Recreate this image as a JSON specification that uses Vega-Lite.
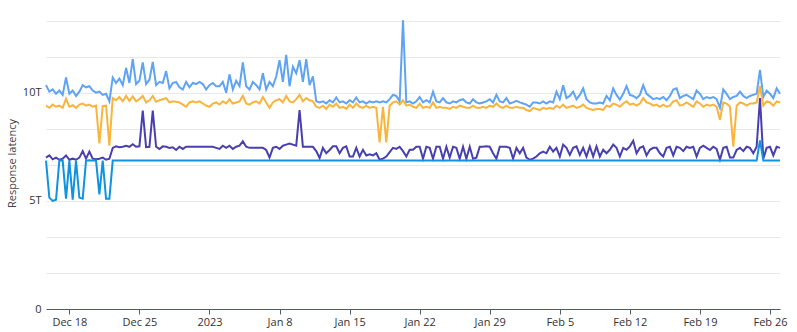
{
 "$schema": "https://vega.github.io/schema/vega-lite/v6.json",
 "width": 734,
 "height": 292,
 "autosize": {"type": "none"},
 "padding": {"left": 46, "top": 17, "right": 17, "bottom": 23},
 "background": "white",
 "config": {"view": {"stroke": null}, "font": "Open Sans"},
 "data": {"values": [
{"t":"2022-12-15T16:00","a":10.35,"b":9.40,"c":7.00,"d":6.86},
{"t":"2022-12-16T00:00","a":10.05,"b":9.30,"c":7.10,"d":5.15},
{"t":"2022-12-16T08:00","a":10.15,"b":9.45,"c":6.92,"d":5.00},
{"t":"2022-12-16T16:00","a":9.95,"b":9.35,"c":7.00,"d":5.05},
{"t":"2022-12-17T00:00","a":10.10,"b":9.40,"c":6.90,"d":6.86},
{"t":"2022-12-17T08:00","a":9.90,"b":9.30,"c":6.95,"d":6.86},
{"t":"2022-12-17T16:00","a":10.70,"b":9.72,"c":7.10,"d":5.10},
{"t":"2022-12-18T00:00","a":9.95,"b":9.35,"c":6.90,"d":6.86},
{"t":"2022-12-18T08:00","a":10.10,"b":9.42,"c":6.95,"d":5.05},
{"t":"2022-12-18T16:00","a":9.85,"b":9.30,"c":6.90,"d":6.86},
{"t":"2022-12-19T00:00","a":10.05,"b":9.45,"c":7.00,"d":5.15},
{"t":"2022-12-19T08:00","a":10.35,"b":9.50,"c":7.30,"d":5.10},
{"t":"2022-12-19T16:00","a":10.25,"b":9.40,"c":6.95,"d":6.86},
{"t":"2022-12-20T00:00","a":10.30,"b":9.45,"c":7.28,"d":6.88},
{"t":"2022-12-20T08:00","a":10.10,"b":9.35,"c":6.95,"d":6.86},
{"t":"2022-12-20T16:00","a":10.00,"b":9.40,"c":6.92,"d":6.86},
{"t":"2022-12-21T00:00","a":10.05,"b":7.65,"c":6.95,"d":5.30},
{"t":"2022-12-21T08:00","a":9.90,"b":9.38,"c":7.00,"d":6.86},
{"t":"2022-12-21T16:00","a":9.95,"b":9.40,"c":6.90,"d":5.10},
{"t":"2022-12-22T00:00","a":9.60,"b":7.55,"c":6.95,"d":5.10},
{"t":"2022-12-22T08:00","a":10.70,"b":9.75,"c":7.45,"d":6.86},
{"t":"2022-12-22T16:00","a":10.45,"b":9.65,"c":7.52,"d":6.86},
{"t":"2022-12-23T00:00","a":10.65,"b":9.80,"c":7.48,"d":6.86},
{"t":"2022-12-23T08:00","a":10.35,"b":9.60,"c":7.50,"d":6.86},
{"t":"2022-12-23T16:00","a":11.15,"b":9.85,"c":7.55,"d":6.86},
{"t":"2022-12-24T00:00","a":10.45,"b":9.62,"c":7.50,"d":6.86},
{"t":"2022-12-24T08:00","a":11.55,"b":9.83,"c":7.62,"d":6.86},
{"t":"2022-12-24T16:00","a":10.40,"b":9.60,"c":7.50,"d":6.86},
{"t":"2022-12-25T00:00","a":10.55,"b":9.70,"c":7.52,"d":6.86},
{"t":"2022-12-25T08:00","a":11.40,"b":9.85,"c":9.17,"d":6.86},
{"t":"2022-12-25T16:00","a":10.40,"b":9.55,"c":7.48,"d":6.86},
{"t":"2022-12-26T00:00","a":10.60,"b":9.65,"c":7.50,"d":6.86},
{"t":"2022-12-26T08:00","a":11.42,"b":9.85,"c":9.17,"d":6.86},
{"t":"2022-12-26T16:00","a":10.35,"b":9.58,"c":7.50,"d":6.86},
{"t":"2022-12-27T00:00","a":10.50,"b":9.65,"c":7.40,"d":6.86},
{"t":"2022-12-27T08:00","a":10.45,"b":9.70,"c":7.52,"d":6.86},
{"t":"2022-12-27T16:00","a":11.00,"b":9.75,"c":7.50,"d":6.86},
{"t":"2022-12-28T00:00","a":10.20,"b":9.55,"c":7.45,"d":6.86},
{"t":"2022-12-28T08:00","a":10.45,"b":9.60,"c":7.48,"d":6.86},
{"t":"2022-12-28T16:00","a":10.50,"b":9.58,"c":7.35,"d":6.86},
{"t":"2022-12-29T00:00","a":10.25,"b":9.55,"c":7.50,"d":6.86},
{"t":"2022-12-29T08:00","a":10.15,"b":9.45,"c":7.40,"d":6.86},
{"t":"2022-12-29T16:00","a":10.50,"b":9.35,"c":7.50,"d":6.86},
{"t":"2022-12-30T00:00","a":10.25,"b":9.55,"c":7.50,"d":6.86},
{"t":"2022-12-30T08:00","a":10.45,"b":9.60,"c":7.50,"d":6.86},
{"t":"2022-12-30T16:00","a":10.40,"b":9.55,"c":7.50,"d":6.86},
{"t":"2022-12-31T00:00","a":10.50,"b":9.60,"c":7.50,"d":6.86},
{"t":"2022-12-31T08:00","a":10.40,"b":9.50,"c":7.50,"d":6.86},
{"t":"2022-12-31T16:00","a":10.15,"b":9.40,"c":7.50,"d":6.86},
{"t":"2023-01-01T00:00","a":10.35,"b":9.35,"c":7.50,"d":6.86},
{"t":"2023-01-01T08:00","a":10.45,"b":9.50,"c":7.50,"d":6.86},
{"t":"2023-01-01T16:00","a":10.30,"b":9.55,"c":7.45,"d":6.86},
{"t":"2023-01-02T00:00","a":10.30,"b":9.45,"c":7.40,"d":6.86},
{"t":"2023-01-02T08:00","a":10.50,"b":9.60,"c":7.55,"d":6.86},
{"t":"2023-01-02T16:00","a":10.00,"b":9.50,"c":7.45,"d":6.86},
{"t":"2023-01-03T00:00","a":10.85,"b":9.70,"c":7.55,"d":6.86},
{"t":"2023-01-03T08:00","a":10.15,"b":9.50,"c":7.40,"d":6.86},
{"t":"2023-01-03T16:00","a":10.55,"b":9.55,"c":7.50,"d":6.86},
{"t":"2023-01-04T00:00","a":10.30,"b":9.60,"c":7.55,"d":6.86},
{"t":"2023-01-04T08:00","a":11.40,"b":9.85,"c":7.75,"d":6.86},
{"t":"2023-01-04T16:00","a":10.30,"b":9.50,"c":7.50,"d":6.86},
{"t":"2023-01-05T00:00","a":10.15,"b":9.45,"c":7.45,"d":6.86},
{"t":"2023-01-05T08:00","a":10.50,"b":9.55,"c":7.45,"d":6.86},
{"t":"2023-01-05T16:00","a":10.35,"b":9.60,"c":7.45,"d":6.86},
{"t":"2023-01-06T00:00","a":10.15,"b":9.50,"c":7.45,"d":6.86},
{"t":"2023-01-06T08:00","a":10.90,"b":9.80,"c":7.45,"d":6.86},
{"t":"2023-01-06T16:00","a":10.15,"b":9.55,"c":7.35,"d":6.86},
{"t":"2023-01-07T00:00","a":10.50,"b":9.30,"c":7.00,"d":6.86},
{"t":"2023-01-07T08:00","a":10.30,"b":9.55,"c":7.45,"d":6.86},
{"t":"2023-01-07T16:00","a":10.75,"b":9.65,"c":7.50,"d":6.86},
{"t":"2023-01-08T00:00","a":11.50,"b":9.70,"c":7.40,"d":6.86},
{"t":"2023-01-08T08:00","a":10.50,"b":9.55,"c":7.55,"d":6.86},
{"t":"2023-01-08T16:00","a":11.75,"b":9.85,"c":7.60,"d":6.86},
{"t":"2023-01-09T00:00","a":10.30,"b":9.60,"c":7.65,"d":6.86},
{"t":"2023-01-09T08:00","a":11.20,"b":9.55,"c":7.60,"d":6.86},
{"t":"2023-01-09T16:00","a":10.90,"b":9.70,"c":7.55,"d":6.86},
{"t":"2023-01-10T00:00","a":11.50,"b":9.90,"c":9.20,"d":6.86},
{"t":"2023-01-10T08:00","a":10.50,"b":9.60,"c":7.50,"d":6.86},
{"t":"2023-01-10T16:00","a":11.55,"b":9.75,"c":7.50,"d":6.86},
{"t":"2023-01-11T00:00","a":10.35,"b":9.65,"c":7.50,"d":6.86},
{"t":"2023-01-11T08:00","a":10.75,"b":9.60,"c":7.50,"d":6.86},
{"t":"2023-01-11T16:00","a":9.60,"b":9.35,"c":7.30,"d":6.86},
{"t":"2023-01-12T00:00","a":9.55,"b":9.30,"c":6.98,"d":6.86},
{"t":"2023-01-12T08:00","a":9.60,"b":9.40,"c":7.45,"d":6.86},
{"t":"2023-01-12T16:00","a":9.50,"b":9.25,"c":7.20,"d":6.86},
{"t":"2023-01-13T00:00","a":9.65,"b":9.45,"c":7.35,"d":6.86},
{"t":"2023-01-13T08:00","a":9.55,"b":9.35,"c":7.52,"d":6.86},
{"t":"2023-01-13T16:00","a":9.78,"b":9.50,"c":7.52,"d":6.86},
{"t":"2023-01-14T00:00","a":9.55,"b":9.30,"c":7.20,"d":6.86},
{"t":"2023-01-14T08:00","a":9.60,"b":9.35,"c":7.45,"d":6.86},
{"t":"2023-01-14T16:00","a":9.50,"b":9.25,"c":7.52,"d":6.86},
{"t":"2023-01-15T00:00","a":9.65,"b":9.45,"c":7.05,"d":6.86},
{"t":"2023-01-15T08:00","a":9.55,"b":9.30,"c":7.05,"d":6.86},
{"t":"2023-01-15T16:00","a":9.78,"b":9.50,"c":7.45,"d":6.86},
{"t":"2023-01-16T00:00","a":9.55,"b":9.35,"c":7.05,"d":6.86},
{"t":"2023-01-16T08:00","a":9.60,"b":9.30,"c":7.36,"d":6.86},
{"t":"2023-01-16T16:00","a":9.50,"b":9.40,"c":7.10,"d":6.86},
{"t":"2023-01-17T00:00","a":9.60,"b":9.30,"c":7.15,"d":6.86},
{"t":"2023-01-17T08:00","a":9.55,"b":9.35,"c":7.10,"d":6.86},
{"t":"2023-01-17T16:00","a":9.60,"b":9.30,"c":7.20,"d":6.86},
{"t":"2023-01-18T00:00","a":9.55,"b":7.70,"c":6.90,"d":6.86},
{"t":"2023-01-18T08:00","a":9.60,"b":9.35,"c":6.95,"d":6.86},
{"t":"2023-01-18T16:00","a":9.55,"b":7.70,"c":7.05,"d":6.86},
{"t":"2023-01-19T00:00","a":9.70,"b":9.40,"c":7.25,"d":6.86},
{"t":"2023-01-19T08:00","a":9.90,"b":9.55,"c":7.45,"d":6.86},
{"t":"2023-01-19T16:00","a":9.85,"b":9.60,"c":7.40,"d":6.86},
{"t":"2023-01-20T00:00","a":9.60,"b":9.45,"c":7.50,"d":6.86},
{"t":"2023-01-20T08:00","a":13.35,"b":9.65,"c":7.30,"d":6.86},
{"t":"2023-01-20T16:00","a":9.55,"b":9.40,"c":7.05,"d":6.86},
{"t":"2023-01-21T00:00","a":9.60,"b":9.45,"c":7.36,"d":6.86},
{"t":"2023-01-21T08:00","a":9.50,"b":9.35,"c":7.36,"d":6.86},
{"t":"2023-01-21T16:00","a":9.60,"b":9.30,"c":7.50,"d":6.86},
{"t":"2023-01-22T00:00","a":9.80,"b":9.50,"c":7.50,"d":6.86},
{"t":"2023-01-22T08:00","a":9.55,"b":9.30,"c":6.95,"d":6.86},
{"t":"2023-01-22T16:00","a":9.65,"b":9.35,"c":7.50,"d":6.86},
{"t":"2023-01-23T00:00","a":9.55,"b":9.30,"c":7.45,"d":6.86},
{"t":"2023-01-23T08:00","a":10.05,"b":9.55,"c":6.95,"d":6.86},
{"t":"2023-01-23T16:00","a":9.60,"b":9.30,"c":7.50,"d":6.86},
{"t":"2023-01-24T00:00","a":9.55,"b":9.35,"c":7.50,"d":6.86},
{"t":"2023-01-24T08:00","a":9.75,"b":9.30,"c":6.95,"d":6.86},
{"t":"2023-01-24T16:00","a":9.55,"b":9.30,"c":7.50,"d":6.86},
{"t":"2023-01-25T00:00","a":9.50,"b":9.25,"c":7.00,"d":6.86},
{"t":"2023-01-25T08:00","a":9.60,"b":9.35,"c":7.50,"d":6.86},
{"t":"2023-01-25T16:00","a":9.55,"b":9.30,"c":7.45,"d":6.86},
{"t":"2023-01-26T00:00","a":9.65,"b":9.40,"c":6.95,"d":6.86},
{"t":"2023-01-26T08:00","a":9.70,"b":9.35,"c":7.50,"d":6.86},
{"t":"2023-01-26T16:00","a":9.55,"b":9.30,"c":6.95,"d":6.86},
{"t":"2023-01-27T00:00","a":9.50,"b":9.30,"c":7.50,"d":6.86},
{"t":"2023-01-27T08:00","a":9.70,"b":9.40,"c":6.95,"d":6.86},
{"t":"2023-01-27T16:00","a":9.55,"b":9.30,"c":7.00,"d":6.86},
{"t":"2023-01-28T00:00","a":9.50,"b":9.30,"c":7.50,"d":6.86},
{"t":"2023-01-28T08:00","a":9.55,"b":9.35,"c":7.50,"d":6.86},
{"t":"2023-01-28T16:00","a":9.60,"b":9.30,"c":7.52,"d":6.86},
{"t":"2023-01-29T00:00","a":9.70,"b":9.40,"c":7.50,"d":6.86},
{"t":"2023-01-29T08:00","a":9.55,"b":9.35,"c":7.20,"d":6.86},
{"t":"2023-01-29T16:00","a":9.90,"b":9.50,"c":6.95,"d":6.86},
{"t":"2023-01-30T00:00","a":9.60,"b":9.35,"c":7.50,"d":6.86},
{"t":"2023-01-30T08:00","a":9.55,"b":9.30,"c":7.50,"d":6.86},
{"t":"2023-01-30T16:00","a":9.75,"b":9.40,"c":7.50,"d":6.86},
{"t":"2023-01-31T00:00","a":9.50,"b":9.30,"c":7.45,"d":6.86},
{"t":"2023-01-31T08:00","a":9.55,"b":9.30,"c":6.95,"d":6.86},
{"t":"2023-01-31T16:00","a":9.62,"b":9.35,"c":7.45,"d":6.86},
{"t":"2023-02-01T00:00","a":9.55,"b":9.30,"c":7.20,"d":6.86},
{"t":"2023-02-01T08:00","a":9.50,"b":9.30,"c":7.45,"d":6.86},
{"t":"2023-02-01T16:00","a":9.45,"b":9.20,"c":7.00,"d":6.86},
{"t":"2023-02-02T00:00","a":9.35,"b":9.15,"c":6.90,"d":6.86},
{"t":"2023-02-02T08:00","a":9.55,"b":9.30,"c":6.95,"d":6.86},
{"t":"2023-02-02T16:00","a":9.55,"b":9.25,"c":7.05,"d":6.86},
{"t":"2023-02-03T00:00","a":9.50,"b":9.20,"c":7.20,"d":6.86},
{"t":"2023-02-03T08:00","a":9.60,"b":9.30,"c":7.28,"d":6.86},
{"t":"2023-02-03T16:00","a":9.50,"b":9.25,"c":7.20,"d":6.86},
{"t":"2023-02-04T00:00","a":9.60,"b":9.30,"c":7.50,"d":6.86},
{"t":"2023-02-04T08:00","a":9.55,"b":9.25,"c":7.28,"d":6.86},
{"t":"2023-02-04T16:00","a":10.05,"b":9.40,"c":7.45,"d":6.86},
{"t":"2023-02-05T00:00","a":9.70,"b":9.30,"c":7.05,"d":6.86},
{"t":"2023-02-05T08:00","a":10.35,"b":9.45,"c":7.60,"d":6.86},
{"t":"2023-02-05T16:00","a":9.75,"b":9.30,"c":7.45,"d":6.86},
{"t":"2023-02-06T00:00","a":9.85,"b":9.35,"c":7.12,"d":6.86},
{"t":"2023-02-06T08:00","a":10.05,"b":9.40,"c":7.45,"d":6.86},
{"t":"2023-02-06T16:00","a":9.70,"b":9.30,"c":7.52,"d":6.86},
{"t":"2023-02-07T00:00","a":9.90,"b":9.35,"c":7.12,"d":6.86},
{"t":"2023-02-07T08:00","a":10.20,"b":9.45,"c":7.45,"d":6.86},
{"t":"2023-02-07T16:00","a":9.70,"b":9.30,"c":7.05,"d":6.86},
{"t":"2023-02-08T00:00","a":9.55,"b":9.25,"c":7.52,"d":6.86},
{"t":"2023-02-08T08:00","a":9.50,"b":9.20,"c":7.05,"d":6.86},
{"t":"2023-02-08T16:00","a":9.50,"b":9.25,"c":7.52,"d":6.86},
{"t":"2023-02-09T00:00","a":9.55,"b":9.25,"c":7.05,"d":6.86},
{"t":"2023-02-09T08:00","a":9.50,"b":9.20,"c":7.36,"d":6.86},
{"t":"2023-02-09T16:00","a":9.85,"b":9.40,"c":7.20,"d":6.86},
{"t":"2023-02-10T00:00","a":9.65,"b":9.35,"c":7.36,"d":6.86},
{"t":"2023-02-10T08:00","a":10.20,"b":9.50,"c":7.60,"d":6.86},
{"t":"2023-02-10T16:00","a":9.90,"b":9.45,"c":7.45,"d":6.86},
{"t":"2023-02-11T00:00","a":9.68,"b":9.35,"c":7.05,"d":6.86},
{"t":"2023-02-11T08:00","a":9.95,"b":9.50,"c":7.45,"d":6.86},
{"t":"2023-02-11T16:00","a":10.30,"b":9.60,"c":7.36,"d":6.86},
{"t":"2023-02-12T00:00","a":9.90,"b":9.45,"c":7.52,"d":6.86},
{"t":"2023-02-12T08:00","a":9.85,"b":9.50,"c":7.78,"d":6.86},
{"t":"2023-02-12T16:00","a":9.75,"b":9.40,"c":7.20,"d":6.86},
{"t":"2023-02-13T00:00","a":9.90,"b":9.50,"c":7.45,"d":6.86},
{"t":"2023-02-13T08:00","a":10.35,"b":9.75,"c":7.52,"d":6.86},
{"t":"2023-02-13T16:00","a":9.95,"b":9.55,"c":7.10,"d":6.86},
{"t":"2023-02-14T00:00","a":9.83,"b":9.50,"c":7.36,"d":6.86},
{"t":"2023-02-14T08:00","a":9.70,"b":9.40,"c":7.45,"d":6.86},
{"t":"2023-02-14T16:00","a":9.75,"b":9.45,"c":7.45,"d":6.86},
{"t":"2023-02-15T00:00","a":9.70,"b":9.35,"c":7.20,"d":6.86},
{"t":"2023-02-15T08:00","a":9.80,"b":9.45,"c":7.05,"d":6.86},
{"t":"2023-02-15T16:00","a":9.65,"b":9.35,"c":7.45,"d":6.86},
{"t":"2023-02-16T00:00","a":9.85,"b":9.40,"c":7.50,"d":6.86},
{"t":"2023-02-16T08:00","a":10.15,"b":9.60,"c":7.10,"d":6.86},
{"t":"2023-02-16T16:00","a":10.20,"b":9.65,"c":7.50,"d":6.86},
{"t":"2023-02-17T00:00","a":9.75,"b":9.40,"c":7.45,"d":6.86},
{"t":"2023-02-17T08:00","a":9.85,"b":9.45,"c":7.30,"d":6.86},
{"t":"2023-02-17T16:00","a":9.90,"b":9.55,"c":7.50,"d":6.86},
{"t":"2023-02-18T00:00","a":9.80,"b":9.45,"c":7.45,"d":6.86},
{"t":"2023-02-18T08:00","a":9.70,"b":9.35,"c":7.50,"d":6.86},
{"t":"2023-02-18T16:00","a":10.10,"b":9.60,"c":7.05,"d":6.86},
{"t":"2023-02-19T00:00","a":9.95,"b":9.50,"c":7.45,"d":6.86},
{"t":"2023-02-19T08:00","a":9.70,"b":9.35,"c":7.55,"d":6.86},
{"t":"2023-02-19T16:00","a":9.80,"b":9.45,"c":7.45,"d":6.86},
{"t":"2023-02-20T00:00","a":9.75,"b":9.40,"c":7.35,"d":6.86},
{"t":"2023-02-20T08:00","a":9.80,"b":9.45,"c":7.50,"d":6.86},
{"t":"2023-02-20T16:00","a":9.70,"b":9.35,"c":7.40,"d":6.86},
{"t":"2023-02-21T00:00","a":9.30,"b":8.75,"c":6.90,"d":6.86},
{"t":"2023-02-21T08:00","a":10.15,"b":9.55,"c":7.45,"d":6.86},
{"t":"2023-02-21T16:00","a":9.95,"b":9.50,"c":7.50,"d":6.86},
{"t":"2023-02-22T00:00","a":9.70,"b":9.35,"c":7.00,"d":6.86},
{"t":"2023-02-22T08:00","a":9.80,"b":7.50,"c":7.00,"d":6.86},
{"t":"2023-02-22T16:00","a":9.85,"b":9.40,"c":7.35,"d":6.86},
{"t":"2023-02-23T00:00","a":10.05,"b":9.55,"c":7.45,"d":6.86},
{"t":"2023-02-23T08:00","a":9.85,"b":9.50,"c":7.30,"d":6.86},
{"t":"2023-02-23T16:00","a":9.75,"b":9.40,"c":7.50,"d":6.86},
{"t":"2023-02-24T00:00","a":9.85,"b":9.50,"c":7.45,"d":6.86},
{"t":"2023-02-24T08:00","a":9.90,"b":9.50,"c":7.20,"d":6.86},
{"t":"2023-02-24T16:00","a":9.95,"b":9.55,"c":7.50,"d":6.86},
{"t":"2023-02-25T00:00","a":11.05,"b":10.30,"c":9.75,"d":7.80},
{"t":"2023-02-25T08:00","a":9.80,"b":9.40,"c":6.95,"d":6.86},
{"t":"2023-02-25T16:00","a":10.10,"b":9.60,"c":7.45,"d":6.86},
{"t":"2023-02-26T00:00","a":9.95,"b":9.55,"c":7.50,"d":6.86},
{"t":"2023-02-26T08:00","a":9.75,"b":9.40,"c":7.10,"d":6.86},
{"t":"2023-02-26T16:00","a":10.20,"b":9.60,"c":7.50,"d":6.86},
{"t":"2023-02-27T00:00","a":9.95,"b":9.55,"c":7.45,"d":6.86}
 ]},
 "transform": [{"fold": ["a", "b", "c", "d"], "as": ["series", "latency"]}],
 "mark": {"type": "line", "strokeWidth": 2, "interpolate": "linear"},
 "encoding": {
  "x": {
   "field": "t", "type": "temporal",
   "scale": {"nice": false},
   "axis": {
    "title": null,
    "grid": false,
    "values": [
     {"year": 2022, "month": 12, "date": 18},
     {"year": 2022, "month": 12, "date": 25},
     {"year": 2023, "month": 1, "date": 1},
     {"year": 2023, "month": 1, "date": 8},
     {"year": 2023, "month": 1, "date": 15},
     {"year": 2023, "month": 1, "date": 22},
     {"year": 2023, "month": 1, "date": 29},
     {"year": 2023, "month": 2, "date": 5},
     {"year": 2023, "month": 2, "date": 12},
     {"year": 2023, "month": 2, "date": 19},
     {"year": 2023, "month": 2, "date": 26}
    ],
    "labelExpr": "month(datum.value) == 0 && date(datum.value) == 1 ? timeFormat(datum.value, '%Y') : timeFormat(datum.value, '%b %-d')",
    "labelFlush": false,
    "domainColor": "#555b66",
    "tickColor": "#555b66",
    "tickSize": 5,
    "labelFontSize": 11,
    "labelColor": "#333333",
    "labelPadding": 2
   }
  },
  "y": {
   "field": "latency", "type": "quantitative",
   "scale": {"domain": [0, 13.5], "nice": false, "zero": true},
   "axis": {
    "title": "Response latency",
    "values": [0, 1.6666666666666667, 3.3333333333333335, 5, 6.666666666666667, 8.333333333333334, 10, 11.666666666666666, 13.333333333333334],
    "labelExpr": "datum.value == 0 ? '0' : abs(datum.value - 5) < 0.01 ? '5T' : abs(datum.value - 10) < 0.01 ? '10T' : ''",
    "domain": false,
    "ticks": false,
    "gridColor": "#e8e8e8",
    "gridWidth": 1,
    "labelFontSize": 11,
    "labelColor": "#333333",
    "labelPadding": 5,
    "titleFontSize": 11,
    "titleFontWeight": "normal",
    "titleColor": "#444444",
    "titlePadding": 5
   }
  },
  "color": {
   "field": "series", "type": "nominal",
   "scale": {"domain": ["a", "b", "c", "d"], "range": ["#5ea3f4", "#f8b43c", "#4a3fae", "#0f93e0"]},
   "legend": null
  }
 }
}
